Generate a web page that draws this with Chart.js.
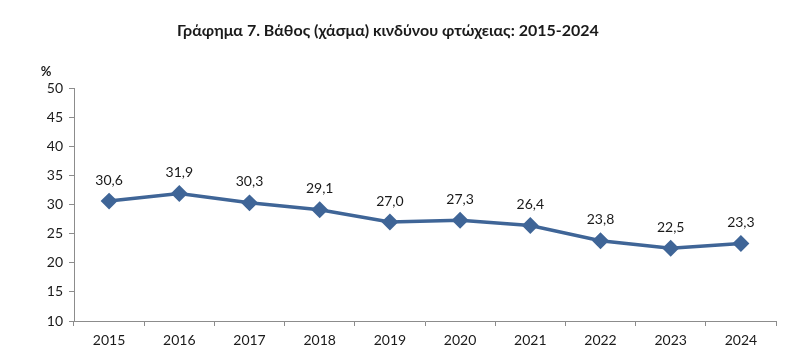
<!DOCTYPE html>
<html>
<head>
<meta charset="utf-8">
<script src="https://cdn.jsdelivr.net/npm/chart.js@4/dist/chart.umd.min.js"></script>
<style>
    html, body { margin: 0; padding: 0; background: #fff; }
    #wrap { width: 800px; height: 363px; position: relative; }
</style>
</head>
<body>
<div id="wrap"><canvas id="povertyGapChart"></canvas></div>
<script>
const years = ['2015', '2016', '2017', '2018', '2019', '2020', '2021', '2022', '2023', '2024'];
const gapValues = [30.6, 31.9, 30.3, 29.1, 27.0, 27.3, 26.4, 23.8, 22.5, 23.3];
const yTicks = [10, 15, 20, 25, 30, 35, 40, 45, 50];

const lineColor = '#3f6597';
const axisColor = '#8c8c8c';
const textColor = '#1a1a1a';
const fontFamily = 'Lato, "Open Sans", sans-serif';

// value labels above each point, with comma decimals
const valueLabels = {
    id: 'valueLabels',
    afterDatasetsDraw(chart) {
        const ctx = chart.ctx;
        const meta = chart.getDatasetMeta(0);
        ctx.save();
        ctx.font = '14px ' + fontFamily;
        ctx.fillStyle = textColor;
        ctx.textAlign = 'center';
        ctx.textBaseline = 'bottom';
        meta.data.forEach((pt, i) => {
            ctx.fillText(gapValues[i].toFixed(1).replace('.', ','), pt.x, pt.y - 14);
        });
        ctx.restore();
    }
};

// "%" unit above the y axis
const unitLabel = {
    id: 'unitLabel',
    afterDraw(chart) {
        const ctx = chart.ctx;
        const area = chart.chartArea;
        ctx.save();
        ctx.font = 'bold 13px ' + fontFamily;
        ctx.fillStyle = textColor;
        ctx.textAlign = 'center';
        ctx.textBaseline = 'bottom';
        ctx.fillText('%', area.left - 28, area.top - 10);
        ctx.restore();
    }
};

new Chart(document.getElementById('povertyGapChart'), {
    type: 'line',
    data: {
        labels: years,
        datasets: [{
            data: gapValues,
            borderColor: lineColor,
            backgroundColor: lineColor,
            borderWidth: 3.5,
            tension: 0,
            pointStyle: 'rectRot',
            pointRadius: 6,
            pointHoverRadius: 6,
            pointBackgroundColor: lineColor,
            pointBorderColor: lineColor
        }]
    },
    options: {
        responsive: true,
        maintainAspectRatio: false,
        animation: false,
        layout: { padding: { left: 0, right: 24, top: 0, bottom: 0 } },
        plugins: {
            legend: { display: false },
            tooltip: { enabled: false },
            title: {
                display: true,
                text: 'Γράφημα 7. Βάθος (χάσμα) κινδύνου φτώχειας: 2015-2024',
                color: textColor,
                font: { family: fontFamily, size: 16, weight: 'bold' },
                padding: { top: 21, bottom: 48 }
            }
        },
        scales: {
            x: {
                offset: true,
                grid: {
                    offset: true,
                    drawOnChartArea: false,
                    drawTicks: true,
                    tickLength: 5,
                    color: axisColor
                },
                border: { color: axisColor, width: 1 },
                ticks: {
                    color: textColor,
                    font: { family: fontFamily, size: 14 },
                    padding: 6,
                    maxRotation: 0
                },
                afterFit(scale) { scale.height = 42; }
            },
            y: {
                min: 10,
                max: 50,
                afterBuildTicks(scale) {
                    scale.ticks = yTicks.map(v => ({ value: v }));
                },
                grid: {
                    drawOnChartArea: false,
                    drawTicks: true,
                    tickLength: 5,
                    color: axisColor
                },
                border: { color: axisColor, width: 1 },
                ticks: {
                    color: textColor,
                    font: { family: fontFamily, size: 14 },
                    padding: 6
                },
                afterFit(scale) { scale.width = 74; }
            }
        }
    },
    plugins: [valueLabels, unitLabel]
});
</script>
</body>
</html>
